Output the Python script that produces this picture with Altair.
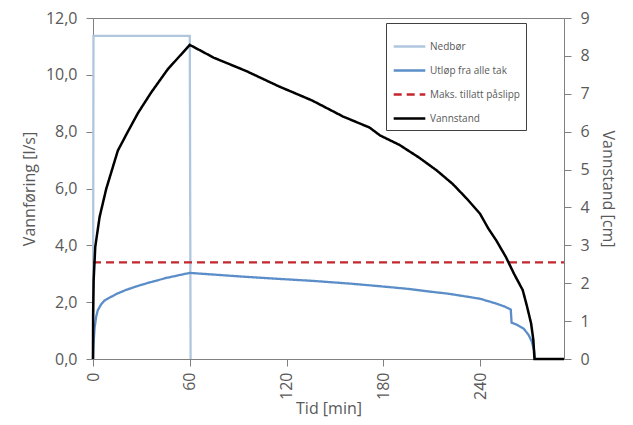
import altair as alt
import pandas as pd

SERIES = ["Nedbør", "Utløp fra alle tak", "Maks. tillatt påslipp", "Vannstand"]
COLORS = ["#b0c6df", "#5b8dc8", "#c4262e", "#000000"]
DASHES = [[1, 0], [1, 0], [8, 5], [1, 0]]

# Nedbør [l/s]
T_NED = [0, 0.3, 60, 60.5]
V_NED = [0, 11.37, 11.37, 0]

# Utløp fra alle tak [l/s]
T_UT = [0, 0.3, 1, 2, 3, 5, 7, 10, 15, 20, 26, 36, 46, 60, 75, 95, 115, 136, 160,
        178, 195, 209, 220, 229, 240, 250, 255, 259, 259.5, 263, 267, 270, 272, 273.5, 274]
V_UT = [0, 0.5, 1.1, 1.5, 1.72, 1.92, 2.05, 2.15, 2.3, 2.42, 2.54, 2.71, 2.86, 3.03, 2.97,
        2.89, 2.82, 2.75, 2.65, 2.56, 2.47, 2.37, 2.3, 2.22, 2.12, 1.95, 1.85, 1.74, 1.28,
        1.2, 1.07, 0.85, 0.62, 0.3, 0]

# Maks. tillatt påslipp [l/s]
T_MAKS = [0, 292]
V_MAKS = [3.4, 3.4]

# Vannstand [cm]
T_VANN = [0, 0.1, 0.4, 1.4, 4.1, 8.2, 15.4, 21.6, 28, 36, 46.4, 60, 75, 95, 115, 136,
          155, 171.4, 178, 190, 202, 213, 223, 232, 240, 245, 250, 256, 261, 266.4, 269,
          271.6, 273, 273.7, 292]
V_VANN = [0, 1.2, 2.08, 2.96, 3.75, 4.49, 5.5, 6.0, 6.5, 7.03, 7.65, 8.29, 7.95, 7.6, 7.2,
          6.82, 6.4, 6.11, 5.9, 5.65, 5.32, 4.98, 4.62, 4.22, 3.83, 3.45, 3.13, 2.69, 2.25,
          1.82, 1.4, 0.94, 0.5, 0, 0]

rows = []
for name, ts, vs in [(SERIES[0], T_NED, V_NED), (SERIES[1], T_UT, V_UT),
                     (SERIES[2], T_MAKS, V_MAKS), (SERIES[3], T_VANN, V_VANN)]:
    for i, (t, v) in enumerate(zip(ts, vs)):
        rows.append({"series": name, "t": t, "v": v, "i": i})
df = pd.DataFrame(rows)

FONT = "Open Sans"
GRAY = "#595959"

legend = alt.Legend(
    title=None, orient="none", legendX=293, legendY=5,
    fillColor="white", strokeColor="#404040", padding=6,
    symbolType="stroke", symbolSize=1000, symbolStrokeWidth=2.5,
    labelFontSize=10, labelColor=GRAY, labelFont=FONT, rowPadding=1,
    labelOffset=3,
)

color = alt.Color("series:N", scale=alt.Scale(domain=SERIES, range=COLORS), legend=legend)
dash = alt.StrokeDash("series:N", scale=alt.Scale(domain=SERIES, range=DASHES), legend=legend)

x = alt.X("t:Q", scale=alt.Scale(domain=[0, 292], nice=False, zero=False),
          axis=alt.Axis(values=[0, 60, 120, 180, 240], title="Tid [min]", labelAngle=270,
                        labelPadding=6, titleY=54, titleBaseline="alphabetic"))

base = alt.Chart(df)

left = base.transform_filter(alt.datum.series != "Vannstand").mark_line(strokeWidth=2.3).encode(
    x=x,
    y=alt.Y("v:Q", scale=alt.Scale(domain=[0, 12], nice=False),
            axis=alt.Axis(values=[0, 2, 4, 6, 8, 10, 12], title="Vannføring [l/s]",
                          labelExpr="replace(format(datum.value, '.1f'), '.', ',')",
                          labelPadding=9, titlePadding=8)),
    color=color, strokeDash=dash, order=alt.Order("i:Q"),
)

right = base.transform_filter(alt.datum.series == "Vannstand").mark_line(strokeWidth=2.5).encode(
    x=x,
    y=alt.Y("v:Q", scale=alt.Scale(domain=[0, 9], nice=False),
            axis=alt.Axis(orient="right", values=list(range(10)), title="Vannstand [cm]",
                          labelPadding=9, titlePadding=10)),
    color=color, strokeDash=dash, order=alt.Order("i:Q"),
)

chart = alt.layer(left, right).resolve_scale(y="independent").properties(
    width=471, height=341,
    autosize=alt.AutoSizeParams(type="none"),
    padding={"left": 85, "top": 10, "right": 61, "bottom": 58},
    background="white",
).configure_view(stroke="#808080", strokeWidth=1).configure_axis(
    grid=False, domainColor="#808080", tickColor="#808080", tickSize=7,
    labelFont=FONT, labelFontSize=16, labelColor=GRAY,
    titleFont=FONT, titleFontSize=16, titleColor=GRAY, titleFontWeight="normal",
)

chart.save("out.html", embed_options={"renderer": "svg", "actions": False})
